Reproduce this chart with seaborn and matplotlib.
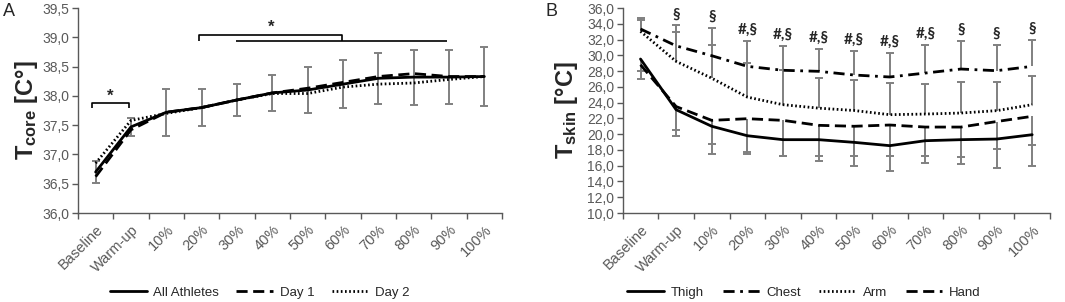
import numpy as np
import pandas as pd
import matplotlib
matplotlib.use("Agg")
import matplotlib.pyplot as plt
import seaborn as sns

# ---------------- data ----------------
categories = ["Baseline", "Warm-up", "10%", "20%", "30%", "40%", "50%",
              "60%", "70%", "80%", "90%", "100%"]

core_all = [36.70, 37.47, 37.72, 37.80, 37.93, 38.05, 38.10, 38.20, 38.30, 38.32, 38.32, 38.33]
core_day1 = [36.62, 37.42, 37.72, 37.80, 37.93, 38.05, 38.13, 38.23, 38.33, 38.38, 38.33, 38.33]
core_day2 = [36.85, 37.58, 37.70, 37.80, 37.93, 38.04, 38.04, 38.15, 38.20, 38.22, 38.28, 38.33]
core_sd = [0.18, 0.16, 0.40, 0.32, 0.27, 0.30, 0.39, 0.41, 0.44, 0.47, 0.46, 0.50]

skin_thigh = [29.53, 23.10, 21.00, 19.80, 19.30, 19.30, 18.96, 18.54, 19.17, 19.30, 19.38, 19.93]
skin_chest = [33.34, 31.20, 29.95, 28.60, 28.10, 27.97, 27.50, 27.25, 27.75, 28.26, 28.05, 28.60]
skin_arm = [33.04, 29.23, 27.10, 24.70, 23.74, 23.30, 23.00, 22.47, 22.55, 22.68, 22.98, 23.74]
skin_hand = [28.80, 23.50, 21.75, 21.96, 21.75, 21.12, 21.00, 21.16, 20.90, 20.90, 21.60, 22.26]

chest_sd_up = [1.39, 2.60, 3.51, 3.26, 3.10, 2.83, 3.09, 3.04, 3.60, 3.60, 3.30, 3.38]
arm_sd_up = [1.39, 3.68, 4.25, 4.32, 4.36, 3.82, 3.90, 4.02, 3.81, 3.89, 3.59, 3.59]
hand_sd_down = [0.75, 2.93, 3.00, 4.26, 4.48, 3.94, 3.82, 3.98, 3.72, 3.84, 3.44, 3.60]
thigh_sd_down = [2.49, 3.38, 3.48, 2.30, 2.03, 2.75, 3.06, 3.26, 2.83, 3.09, 3.68, 4.03]

skin_sig = ["", "§", "§", "#,§", "#,§", "#,§", "#,§", "#,§", "#,§", "§", "§", "§"]

core_yticks = [36.0, 36.5, 37.0, 37.5, 38.0, 38.5, 39.0, 39.5]
core_yticklabels = ["36,0", "36,5", "37,0", "37,5", "38,0", "38,5", "39,0", "39,5"]
skin_yticks = [10, 12, 14, 16, 18, 20, 22, 24, 26, 28, 30, 32, 34, 36]
skin_yticklabels = ["10,0", "12,0", "14,0", "16,0", "18,0", "20,0", "22,0", "24,0",
                    "26,0", "28,0", "30,0", "32,0", "34,0", "36,0"]

# ---------------- style ----------------
sns.set_style("white")
plt.rcParams["font.family"] = ["Liberation Sans", "DejaVu Sans"]
plt.rcParams["mathtext.fontset"] = "custom"
plt.rcParams["mathtext.rm"] = "Liberation Sans"
plt.rcParams["mathtext.bf"] = "Liberation Sans:bold"
plt.rcParams["mathtext.it"] = "Liberation Sans:italic"

TICKC = "#595959"
SPINEC = "#595959"
ERRC = "#808080"

fig = plt.figure(figsize=(10.65, 3.02), dpi=100)
axA = fig.add_axes([0.0732, 0.2947, 0.3982, 0.6788])
axB = fig.add_axes([0.5847, 0.2947, 0.4012, 0.6788])

x = np.arange(len(categories))


def style_axis(ax):
    for s in ["top", "right"]:
        ax.spines[s].set_visible(False)
    for s in ["left", "bottom"]:
        ax.spines[s].set_color(SPINEC)
        ax.spines[s].set_linewidth(1.0)
    ax.set_xlim(-0.5, len(categories) - 0.5)
    ax.set_xticks(x)
    ax.set_xticklabels(categories, rotation=45, ha="right", va="top",
                       rotation_mode="anchor", fontsize=10.5, color=TICKC)
    ax.set_xticks(np.arange(-0.5, len(categories), 1.0), minor=True)
    ax.tick_params(axis="x", which="major", length=0, pad=7)
    ax.tick_params(axis="x", which="minor", length=4, width=1, color=SPINEC,
                   direction="out", bottom=True)
    ax.tick_params(axis="y", which="major", length=4, width=1, color=SPINEC,
                   direction="out", left=True, labelsize=10, labelcolor=TICKC, pad=2)
    ax.grid(False)
    ax.set_xlabel("")


def draw_line(ax, yvals, label, dashes):
    sns.lineplot(x=x, y=yvals, ax=ax, color="black", linewidth=2, label=label,
                 zorder=3, legend=False)
    ln = ax.lines[-1]
    if dashes is not None:
        ln.set_dashes(dashes)
    return ln


# ---------------- panel A ----------------
axA.errorbar(x, core_all, yerr=core_sd, fmt="none", ecolor=ERRC,
             elinewidth=1.4, capsize=2.6, capthick=1.4, zorder=1)
hA = [draw_line(axA, core_all, "All Athletes", None),
      draw_line(axA, core_day1, "Day 1", (4, 2)),
      draw_line(axA, core_day2, "Day 2", (0.6, 0.9))]
style_axis(axA)
axA.set_ylim(36.0, 39.5)
axA.set_yticks(core_yticks)
axA.set_yticklabels(core_yticklabels)
axA.set_ylabel(r"$\mathbf{T_{core}}$ [C°]", fontsize=17, fontweight="bold")
axA.yaxis.set_label_coords(-0.09, 0.5)

# significance brackets
bk = dict(color="black", lw=1.2, solid_capstyle="butt")
axA.plot([-0.1, -0.1, 0.95, 0.95], [37.79, 37.87, 37.87, 37.79], **bk)
axA.text(0.42, 37.86, "*", ha="center", va="bottom", fontsize=12, fontweight="bold")
axA.plot([2.93, 2.93, 6.97, 6.97], [38.93, 39.04, 39.04, 38.93], **bk)
axA.plot([3.96, 9.94], [38.93, 38.93], **bk)
axA.text(4.97, 39.04, "*", ha="center", va="bottom", fontsize=12, fontweight="bold")

axA.legend(handles=hA, loc="center", bbox_to_anchor=(0.244, 0.03),
           bbox_transform=fig.transFigure, ncol=3, frameon=False, fontsize=9.5,
           handlelength=2.8, handletextpad=0.5, columnspacing=1.3)

# ---------------- panel B ----------------
up_series = [(skin_chest, chest_sd_up), (skin_arm, arm_sd_up)]
down_series = [(skin_hand, hand_sd_down), (skin_thigh, thigh_sd_down)]
for vals, err in up_series:
    v = np.asarray(vals)
    e = np.asarray(err)
    axB.vlines(x, v, v + e, color=ERRC, lw=1.4, zorder=1)
    axB.plot(x, v + e, ls="none", marker="_", ms=5.2, mew=1.4, color=ERRC, zorder=1)
for vals, err in down_series:
    v = np.asarray(vals)
    e = np.asarray(err)
    axB.vlines(x, v - e, v, color=ERRC, lw=1.4, zorder=1)
    axB.plot(x, v - e, ls="none", marker="_", ms=5.2, mew=1.4, color=ERRC, zorder=1)

hB = [draw_line(axB, skin_thigh, "Thigh", None),
      draw_line(axB, skin_chest, "Chest", (4, 2, 1, 2)),
      draw_line(axB, skin_arm, "Arm", (0.6, 0.9)),
      draw_line(axB, skin_hand, "Hand", (4, 2))]
style_axis(axB)
axB.set_ylim(10, 36)
axB.set_yticks(skin_yticks)
axB.set_yticklabels(skin_yticklabels)
axB.set_ylabel(r"$\mathbf{T_{skin}}$ [°C]", fontsize=17, fontweight="bold")
axB.yaxis.set_label_coords(-0.1, 0.5)

top_caps = np.maximum(np.asarray(skin_chest) + np.asarray(chest_sd_up),
                      np.asarray(skin_arm) + np.asarray(arm_sd_up))
for xi, t, lab in zip(x, top_caps, skin_sig):
    if lab:
        axB.text(xi, t + 0.5, lab, ha="center", va="bottom", fontsize=11,
                 family=["Lato", "DejaVu Sans"], fontweight="bold")

axB.legend(handles=hB, loc="center", bbox_to_anchor=(0.755, 0.03),
           bbox_transform=fig.transFigure, ncol=4, frameon=False, fontsize=9.5,
           handlelength=2.8, handletextpad=0.5, columnspacing=1.4)

# panel letters
fig.text(0.003, 0.99, "A", fontsize=13, va="top", ha="left")
fig.text(0.512, 0.99, "B", fontsize=13, va="top", ha="left")

fig.savefig("out.png", dpi=100)
